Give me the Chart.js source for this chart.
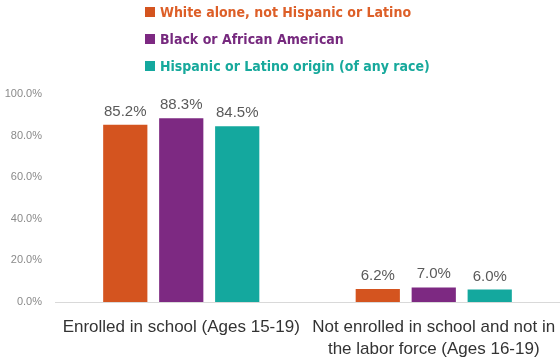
<!DOCTYPE html>
<html>
<head>
<meta charset="utf-8">
<script src="https://cdn.jsdelivr.net/npm/chart.js@4.4.1/dist/chart.umd.min.js"></script>
<style>
  html, body { margin: 0; padding: 0; background: #fff; overflow: hidden; }
  #wrap { position: relative; width: 560px; height: 362px; }
  #legend { position: absolute; left: 145px; top: 2px; font-family: "Liberation Sans Narrow", "DejaVu Sans Condensed", "Liberation Sans", sans-serif; font-weight: bold; font-size: 14px; }
  #legend div { height: 27px; line-height: 20px; white-space: nowrap; }
  #legend span.box { display: inline-block; width: 10px; height: 10px; margin-right: 5px; vertical-align: 0px; }
</style>
</head>
<body>
<div id="wrap">
  <canvas id="c" width="560" height="362"></canvas>
  <div id="legend"></div>
</div>
<script>
const categories = [["Enrolled in school (Ages 15-19)"], ["Not enrolled in school and not in", "the labor force (Ages 16-19)"]];
const seriesNames = ["White alone, not Hispanic or Latino", "Black or African American", "Hispanic or Latino origin (of any race)"];
const whiteValues = [85.2, 6.2];
const blackValues = [88.3, 7.0];
const hispanicValues = [84.5, 6.0];
const yTicks = [0, 20, 40, 60, 80, 100];
const barColors = ["#D4541F", "#7D2982", "#14A89E"];
const legendTextColors = ["#DD5F28", "#76297E", "#17A99C"];

const seriesValues = [whiteValues, blackValues, hispanicValues];

// HTML legend
const legendEl = document.getElementById('legend');
seriesNames.forEach((n, i) => {
  const d = document.createElement('div');
  d.style.color = legendTextColors[i];
  const b = document.createElement('span');
  b.className = 'box';
  b.style.background = barColors[i];
  d.appendChild(b);
  d.appendChild(document.createTextNode(n));
  legendEl.appendChild(d);
});

const dataLabels = {
  id: 'dataLabels',
  afterDatasetsDraw(chart) {
    const ctx = chart.ctx;
    ctx.save();
    ctx.font = '15px "Liberation Sans", Arial, sans-serif';
    ctx.fillStyle = '#5a5a5a';
    ctx.textAlign = 'center';
    ctx.textBaseline = 'alphabetic';
    chart.data.datasets.forEach((ds, i) => {
      chart.getDatasetMeta(i).data.forEach((bar, j) => {
        ctx.fillText(ds.data[j].toFixed(1) + '%', bar.x, bar.y - 9);
      });
    });
    ctx.restore();
  }
};

new Chart(document.getElementById('c'), {
  type: 'bar',
  data: {
    labels: categories,
    datasets: seriesNames.map((n, i) => ({
      label: n,
      data: seriesValues[i],
      backgroundColor: barColors[i],
      borderWidth: 0,
      categoryPercentage: 0.665,
      barPercentage: 0.79
    }))
  },
  options: {
    responsive: false,
    animation: false,
    devicePixelRatio: 1,
    layout: { padding: { top: 94, right: 0, left: 0, bottom: 0 } },
    plugins: { legend: { display: false }, tooltip: { enabled: false } },
    scales: {
      x: {
        grid: { display: false, drawTicks: false },
        border: { display: true, color: '#d9d9d9', width: 1 },
        ticks: {
          color: '#333333',
          font: { family: '"Liberation Sans", Arial, sans-serif', size: 17, lineHeight: 1.25 },
          padding: 15,
          maxRotation: 0,
          autoSkip: false
        },
        afterFit(scale) { scale.height = 60; scale.paddingLeft = 0; scale.paddingRight = 0; }
      },
      y: {
        min: 0, max: 100,
        afterBuildTicks(scale) { scale.ticks = yTicks.map(v => ({ value: v })); },
        grid: { display: false, drawTicks: false },
        border: { display: false },
        ticks: {
          color: '#8a8a8a',
          font: { family: '"Liberation Sans", Arial, sans-serif', size: 11 },
          padding: 13,
          callback: v => v.toFixed(1) + '%'
        },
        afterFit(scale) { scale.width = 55; }
      }
    }
  },
  plugins: [dataLabels]
});
</script>
</body>
</html>
